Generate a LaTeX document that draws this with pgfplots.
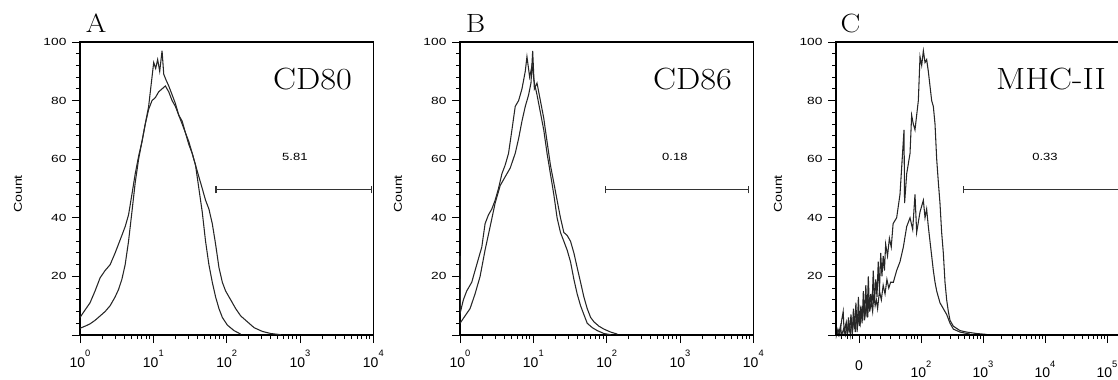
\documentclass[border=0pt]{standalone}
\usepackage{fontspec}
\setsansfont{Liberation Sans}
\usepackage{pgfplots}
\pgfplotsset{compat=1.18}

\newcommand{\dec}[1]{10\raisebox{7.8pt}{\fontsize{7}{7}\selectfont #1}}
\newcommand{\sm}[1]{\scalebox{1.25}[1]{#1}}

\pgfplotsset{
 flow/.style={
  scale only axis, height=219.75pt, ymin=0, ymax=100,
  anchor=south west, clip=false,
  tick align=outside, xtick pos=left, ytick pos=left,
  ytick={0,20,40,60,80,100},
  yticklabels={}, xticklabels={},
  minor y tick num=4,
  major tick length=6pt, minor tick length=3pt,
  axis line style={line width=0.9pt},
  every tick/.append style={line width=0.7pt, black},
  cycle list={{black!85,line width=0.8pt,mark=none},{black!85,line width=0.8pt,mark=none}},
 },
 logx/.style={
  xmin=0, xmax=4, width=220pt,
  xtick={0,1,2,3,4},
  minor xtick={0.301,0.477,0.602,0.699,0.778,0.845,0.903,0.954,
   1.301,1.477,1.602,1.699,1.778,1.845,1.903,1.954,
   2.301,2.477,2.602,2.699,2.778,2.845,2.903,2.954,
   3.301,3.477,3.602,3.699,3.778,3.845,3.903,3.954},
 },
}
\tikzset{
 ylab/.style={anchor=east, inner sep=0pt, xshift=-10pt, font=\sffamily\fontsize{7.8}{8}\selectfont},
 xlab/.style={anchor=base, inner sep=0pt, font=\sffamily\fontsize{10.5}{11}\selectfont},
}
\newcommand{\yticks}{\pgfplotsinvokeforeach{20,40,60,80,100}{\node[ylab] at (axis cs:\pgfkeysvalueof{/pgfplots/xmin},##1) {\scalebox{1.32}[1]{##1}};}}

\begin{document}
\begin{tikzpicture}
\path[use as bounding box] (0,0) rectangle (838.5pt,284.25pt);

% ---------------- A : CD80
\begin{axis}[flow, logx, at={(60pt,33pt)}]
\addplot coordinates {
(0.000,6.0)(0.068,8.5)(0.137,11)(0.205,15)(0.274,19.5)(0.342,22)(0.411,24)
(0.479,28)(0.525,31)(0.571,34)(0.616,37)(0.662,41)(0.708,48)(0.753,55)
(0.799,61)(0.845,66)(0.890,72)(0.936,78)(0.968,85)(1.005,93)(1.032,91)
(1.059,94)(1.087,90)(1.119,97)(1.142,89)(1.174,87)(1.210,85)(1.256,82)
(1.301,79)(1.347,75)(1.393,73)(1.438,69)(1.484,66)(1.530,62)(1.575,58)
(1.621,50)(1.667,42)(1.712,32)(1.758,24)(1.804,18)(1.849,13)(1.895,9)
(1.941,6)(2.009,3.4)(2.100,1.5)(2.192,0.3)};
\addplot coordinates {
(0,2.3)(0.068,3)(0.137,3.8)(0.205,5)(0.274,6.5)(0.342,8)(0.411,10)
(0.479,13)(0.525,15.5)(0.571,19)(0.616,24)(0.662,32)(0.708,42)(0.753,52)
(0.799,60)(0.845,66)(0.890,72)(0.936,77)(0.982,80)(1.027,81)(1.073,83)
(1.119,84)(1.164,85)(1.210,83)(1.256,80)(1.301,78)(1.347,75)(1.393,72)
(1.438,69)(1.484,65)(1.530,62)(1.575,58)(1.621,54)(1.667,50)(1.712,46)
(1.758,43)(1.804,38)(1.849,31)(1.895,23)(1.941,18)(1.986,15)(2.055,12)
(2.123,9)(2.192,6.5)(2.283,4.5)(2.374,2.5)(2.489,1.2)(2.603,0.5)(2.740,0.1)};
\draw[line width=0.8pt, black!80] (axis cs:1.855,49.5) -- (axis cs:3.98,49.5);
\draw[line width=0.8pt, black!80] (axis cs:1.855,48.3) -- (axis cs:1.855,50.7);
\draw[line width=0.8pt, black!80] (axis cs:3.98,48.3) -- (axis cs:3.98,50.7);
\node[font=\sffamily\fontsize{7.8}{8}\selectfont] at (axis cs:2.93,60.75) {\sm{5.81}};
\yticks
\pgfplotsinvokeforeach{0,1,2,3,4}{\node[xlab, yshift=-24pt] at (axis cs:#1,0) {\dec{#1}};}
\end{axis}

% ---------------- B : CD86
\begin{axis}[flow, logx, at={(345pt,33pt)}]
\addplot coordinates {
(0,27)(0.007,8)(0.046,12)(0.091,15)(0.160,18)(0.228,24)(0.297,30)(0.342,38)
(0.388,41)(0.434,43)(0.479,46)(0.525,50)(0.571,55)(0.616,58)(0.662,62)
(0.708,70)(0.753,78)(0.799,80)(0.845,84)(0.890,90)(0.913,95)(0.950,88)
(0.982,92)(1.014,86)(1.050,82)(1.096,76)(1.142,70)(1.187,62)(1.233,55)
(1.279,48)(1.324,40)(1.370,35)(1.416,32)(1.461,29)(1.507,25)(1.553,19)
(1.598,14)(1.644,10)(1.689,7)(1.735,4)(1.804,2.5)(1.872,1.5)(1.963,0.5)(2.055,0.1)};
\addplot coordinates {
(0,4)(0.068,6.5)(0.137,9)(0.205,14)(0.274,20)(0.342,29)(0.411,37)(0.479,45)
(0.548,51)(0.616,54)(0.685,57)(0.753,62)(0.799,67)(0.845,73)(0.890,78)
(0.936,82)(0.968,86)(0.991,97)(1.014,84)(1.050,86)(1.096,80)(1.142,74)
(1.187,66)(1.233,58)(1.279,52)(1.324,46)(1.370,40)(1.416,35)(1.461,34)
(1.507,32)(1.553,28)(1.598,23)(1.644,18)(1.689,13)(1.735,9)(1.781,6)
(1.826,4.5)(1.895,3)(1.963,2)(2.055,1)(2.146,0.3)};
\draw[line width=0.8pt, black!80] (axis cs:1.98,49.5) -- (axis cs:3.94,49.5);
\draw[line width=0.8pt, black!80] (axis cs:1.98,48.3) -- (axis cs:1.98,50.7);
\draw[line width=0.8pt, black!80] (axis cs:3.94,48.3) -- (axis cs:3.94,50.7);
\node[font=\sffamily\fontsize{7.8}{8}\selectfont] at (axis cs:2.93,60.75) {\sm{0.18}};
\yticks
\pgfplotsinvokeforeach{0,1,2,3,4}{\node[xlab, yshift=-24pt] at (axis cs:#1,0) {\dec{#1}};}
\end{axis}

% ---------------- C : MHC-II
\begin{axis}[flow, at={(627pt,33pt)}, width=220.5pt,
  xmin=0.629, xmax=5.371,
  xtick={1,2,3,4,5},
  minor xtick={0.71,0.81,0.90,1.10,1.18,1.34,1.50,1.66,1.77,1.85,1.90,1.95,
   2.301,2.477,2.602,2.699,2.778,2.845,2.903,2.954,
   3.301,3.477,3.602,3.699,3.778,3.845,3.903,3.954,
   4.301,4.477,4.602,4.699,4.778,4.845,4.903,4.954}]
\addplot coordinates {
(0.632,49)(0.636,0)(0.66,2)(0.69,0)(0.72,5)(0.745,8)(0.76,1)(0.79,4)(0.81,0)
(0.83,6)(0.85,1)(0.87,7)(0.89,0)(0.91,9)(0.93,2)(0.95,11)(0.97,1)(0.99,13)
(1.01,3)(1.03,10)(1.05,4)(1.07,15)(1.09,5)(1.11,17)(1.13,6)(1.15,20)(1.17,8)
(1.19,14)(1.21,10)(1.23,22)(1.25,11)(1.27,19)(1.29,13)(1.31,25)(1.33,15)
(1.35,28)(1.37,20)(1.39,27)(1.41,22)(1.43,31)(1.46,27)(1.49,33)(1.52,30)
(1.55,38)(1.607,40)(1.661,48)(1.726,70)(1.735,45)(1.769,55)(1.823,62)
(1.849,75)(1.876,72)(1.903,70)(1.957,80)(1.984,95)(2.011,92)(2.038,97)
(2.065,93)(2.091,94)(2.118,90)(2.145,85)(2.172,80)(2.199,78)(2.226,72)
(2.253,60)(2.280,52)(2.306,45)(2.333,35)(2.360,28)(2.387,18)(2.414,12)
(2.441,8)(2.468,5)(2.522,3)(2.629,1.5)(2.737,1)(2.898,0.5)(3.059,0.2)};
\addplot coordinates {
(0.63,0)(0.65,1)(0.67,0)(0.70,3)(0.72,0)(0.75,2)(0.78,0)(0.80,4)(0.82,1)
(0.84,3)(0.86,0)(0.88,5)(0.90,2)(0.92,6)(0.94,1)(0.96,8)(0.98,3)(1.00,7)
(1.02,4)(1.04,9)(1.06,5)(1.08,12)(1.10,7)(1.12,10)(1.14,6)(1.16,13)(1.18,9)
(1.20,11)(1.22,8)(1.24,14)(1.26,10)(1.28,12)(1.30,9)(1.33,15)(1.36,12)
(1.39,17)(1.42,14)(1.45,19)(1.48,16)(1.51,18)(1.554,18)(1.607,22)(1.661,25)
(1.715,30)(1.769,37)(1.823,40)(1.866,36)(1.903,48)(1.930,35)(1.984,42)
(2.038,46)(2.065,40)(2.091,43)(2.118,37)(2.145,32)(2.172,27)(2.199,22)
(2.226,18)(2.253,15)(2.306,11)(2.360,9)(2.414,7)(2.468,4)(2.522,2)
(2.629,1)(2.79,0.3)};
\draw[line width=0.8pt, black!80] (axis cs:2.68,49.5) -- (axis cs:5.4,49.5);
\draw[line width=0.8pt, black!80] (axis cs:2.68,48.3) -- (axis cs:2.68,50.7);
\node[font=\sffamily\fontsize{7.8}{8}\selectfont] at (axis cs:4.0,60.75) {\sm{0.33}};
\draw[line width=1.8pt] (rel axis cs:0,1) -- (rel axis cs:0,0) -- (rel axis cs:1,0);
\yticks
\node[xlab, yshift=-26.25pt] at (axis cs:1,0) {0};
\pgfplotsinvokeforeach{2,3,4,5}{\node[xlab, yshift=-32pt] at (axis cs:#1,0) {\dec{#1}};}
\end{axis}

% ---------------- texts
\foreach \px/\lab in {72pt/A, 356.7pt/B, 637.9pt/C}
  \node[anchor=base, inner sep=0pt, font=\fontsize{19.8}{20}\selectfont] at (\px,259.5pt) {\scalebox{1.12}[1]{\lab}};
\foreach \px/\lab in {234.4pt/CD80, 519.4pt/CD86, 788.3pt/MHC-II}
  \node[anchor=base, inner sep=0pt, font=\fontsize{23}{23}\selectfont] at (\px,217.3pt) {\scalebox{1.12}[1]{\lab}};
\foreach \px in {13.5pt, 298.5pt, 583.5pt}
  \node[rotate=90, inner sep=0pt, font=\sffamily\fontsize{8.5}{9}\selectfont] at (\px,138.75pt) {\scalebox{1.25}[1]{Count}};
\end{tikzpicture}
\end{document}
